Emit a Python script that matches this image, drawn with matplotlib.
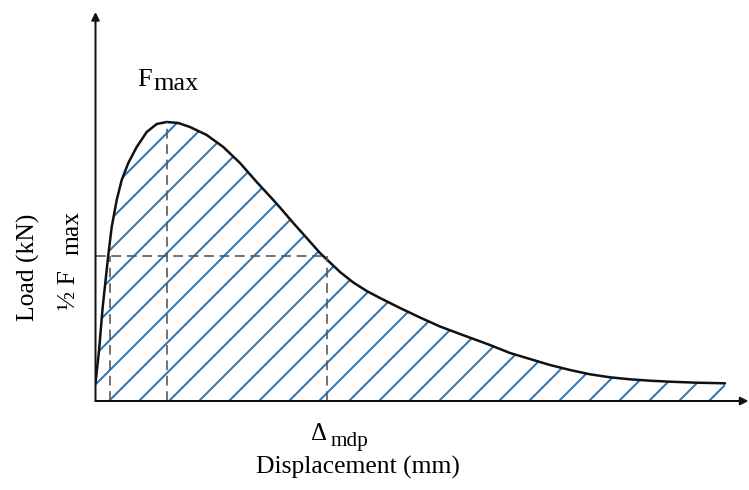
import numpy as np
import matplotlib
matplotlib.use('Agg')
import matplotlib.pyplot as plt

plt.rcParams['font.family'] = ['Liberation Serif', 'DejaVu Serif']
plt.rcParams['hatch.linewidth'] = 1.6

# load-displacement curve (schematic)
disp = [0.0, 0.35, 0.72, 1.12, 1.28, 1.62, 2.12, 2.62, 3.28, 4.12, 5.12, 6.12,
        7.12, 8.28, 9.45, 11.12, 12.78, 14.45, 16.12, 17.78, 18.45, 19.78,
        21.12, 22.45, 24.45, 25.78, 27.12, 28.45, 30.45, 32.45, 34.45, 36.45,
        39.45, 41.45, 43.45, 45.45, 47.45, 49.45, 51.45, 53.45, 55.45, 57.45,
        60.12, 62.95]
load = [1.8, 5.0, 9.4, 13.1, 14.6, 17.4, 20.1, 22.1, 23.8, 25.4, 26.9, 27.7,
        27.9, 27.8, 27.4, 26.6, 25.4, 23.8, 21.9, 20.1, 19.35, 17.8,
        16.3, 14.8, 12.9, 11.85, 11.0, 10.3, 9.3, 8.35, 7.45, 6.7,
        5.6, 4.8, 4.2, 3.6, 3.1, 2.67, 2.37, 2.17, 2.03, 1.93,
        1.83, 1.77]

f_max = 27.9
x_fmax = 7.12
half_load = 14.5
x_half_pre = 1.45
x_mdp = 23.1

x_end = 65.35
y_end = 38.9

blue = '#2E75B6'
dash_col = '#555555'

fig = plt.figure(figsize=(749 / 90, 490 / 90), dpi=90)
ax = fig.add_axes([95.5 / 749, 89 / 490, 653.5 / 749, 389 / 490])
ax.set_xlim(0, x_end)
ax.set_ylim(0, y_end)
ax.axis('off')

# hatched area under the curve
ax.fill_between(disp, 0, load, hatch='/', facecolor='none', edgecolor=blue, linewidth=0)
ax.plot(disp, load, color='#111111', lw=2.0, solid_joinstyle='round', solid_capstyle='round')

# dashed guides
kw = dict(color=dash_col, lw=1.3, dashes=(6, 3.5))
ax.plot([x_fmax, x_fmax], [0, f_max], **kw)
ax.plot([0, x_mdp], [half_load, half_load], **kw)
ax.plot([x_mdp, x_mdp], [0, half_load], **kw)
ax.plot([x_half_pre, x_half_pre], [0, half_load], **kw)

# axes with arrows
arr = dict(arrowstyle='-|>', color='#111111', lw=1.6, mutation_scale=13, shrinkA=0, shrinkB=0)
ax.annotate('', xy=(0, y_end), xytext=(0, 0), arrowprops=arr, annotation_clip=False)
ax.annotate('', xy=(x_end - 0.05, 0), xytext=(0, 0), arrowprops=arr, annotation_clip=False)

fs = 20.5
ax.text(4.15, 31.5, 'F', fontsize=21, va='baseline', ha='left')
ax.text(5.75, 31.1, 'max', fontsize=21, va='baseline', ha='left')

ax.text(21.5, -3.9, '\u0394', fontsize=20, va='baseline', ha='left', clip_on=False)
ax.text(23.5, -4.5, 'mdp', fontsize=17, va='baseline', ha='left', clip_on=False)

ax.text(26.25, -7.3, 'Displacement (mm)', fontsize=fs, va='baseline', ha='center', clip_on=False)

ax.text(-6.05, 13.4, 'Load (kN)', fontsize=fs, rotation=90, rotation_mode='anchor',
        va='baseline', ha='center', clip_on=False)
ax.text(-2.05, 9.1, '\u00bd F', fontsize=fs, rotation=90, rotation_mode='anchor',
        va='baseline', ha='left', clip_on=False)
ax.text(-1.75, 14.6, 'max', fontsize=fs, rotation=90, rotation_mode='anchor',
        va='baseline', ha='left', clip_on=False)

fig.savefig('out.png', dpi=90)
